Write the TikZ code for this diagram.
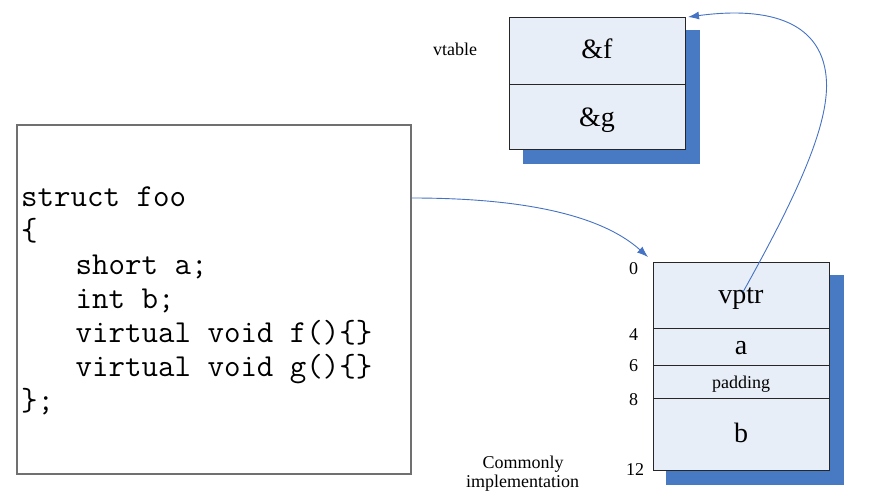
\documentclass[tikz,border=0pt]{standalone}
\usepackage{fontspec}
\setmainfont{Liberation Serif}
\usetikzlibrary{arrows.meta,backgrounds}
\definecolor{cellfill}{RGB}{232,238,248}
\definecolor{shadowblue}{RGB}{72,122,196}
\definecolor{linkblue}{RGB}{68,114,196}
\definecolor{codeborder}{RGB}{112,112,112}
\tikzset{
  cell/.style={draw=black!85, line width=1pt, fill=cellfill, rectangle,
               inner sep=0pt, anchor=north west, minimum width=176pt},
  big/.style={font=\fontsize{28}{30}\selectfont, inner sep=0pt, anchor=base},
  small/.style={font=\fontsize{18}{20}\selectfont, inner sep=0pt, anchor=base},
  codeline/.style={font=\ttfamily\fontsize{32}{34}\selectfont, inner sep=0pt, anchor=base west},
  link/.style={draw=linkblue, line width=0.9pt, -{Latex[length=11pt,width=8pt]}},
  shade/.style={fill=shadowblue}
}
\begin{document}
\begin{tikzpicture}[x=1pt,y=-1pt]
\useasboundingbox (0,0) rectangle (869,497);

% source code
\node[draw=codeborder, line width=1.6pt, fill=white, inner sep=0pt, anchor=north west,
      minimum width=394pt, minimum height=349pt] (codebox) at (16,124) {};
\node[codeline] (l1) at (21,206) {struct foo};
\node[codeline] (l2) at (21,240) {\{};
\node[codeline] (l3) at (75.5,274) {short a;};
\node[codeline] (l4) at (75.5,308) {int b;};
\node[codeline] (l5) at (75.5,342) {virtual void f()\{\}};
\node[codeline] (l6) at (75.5,376) {virtual void g()\{\}};
\node[codeline] (l7) at (21,410) {\};};

% vtable
\node[cell, minimum width=176pt, minimum height=67pt] (fcell) at (509,17) {};
\node[cell, minimum width=176pt, minimum height=65pt] (gcell) at (509,84) {};
\node[big] (ftext) at (597,59) {\&f};
\node[big] (gtext) at (597,127) {\&g};
\node[small] (vtlabel) at (455,55.5) {vtable};

% object layout
\node[cell, minimum height=66pt] (vptrcell) at (653,262) {};
\node[cell, minimum height=37pt] (acell) at (653,328) {};
\node[cell, minimum height=33pt] (padcell) at (653,365) {};
\node[cell, minimum height=72pt] (bcell) at (653,398) {};
\node[big] (vptrtext) at (741,303) {vptr};
\node[big] (atext) at (741,354) {a};
\node[small] (padtext) at (741,388) {padding};
\node[big] (btext) at (741,442.5) {b};

% byte offsets
\node[small] (o0) at (633.5,274) {0};
\node[small] (o4) at (633.5,340) {4};
\node[small] (o6) at (633.5,371.5) {6};
\node[small] (o8) at (633.5,405.5) {8};
\node[small] (o12) at (635,475) {12};

\node[small] (cm1) at (523,468) {Commonly};
\node[small] (cm2) at (522.5,487) {implementation};

% drop shadows
\begin{scope}[on background layer]
  \fill[shade] ([shift={(13.5pt,-13.5pt)}]fcell.north west) rectangle ([shift={(13.5pt,-14pt)}]gcell.south east);
  \fill[shade] ([shift={(13pt,-12.5pt)}]vptrcell.north west) rectangle ([shift={(13.5pt,-14pt)}]bcell.south east);
\end{scope}

% pointers
\coordinate (vptrsrc) at (743,292);
\draw[link] ([yshift=-74pt]codebox.north east)
  .. controls (520,198) and (600,214) .. ([shift={(-5pt,5pt)}]vptrcell.north west);
\draw[link] (vptrsrc)
  .. controls (800,190) and (828,125) .. (826.5,82)
  .. controls (824,22) and (770,6) .. ([xshift=2pt]fcell.north east);
\end{tikzpicture}
\end{document}
